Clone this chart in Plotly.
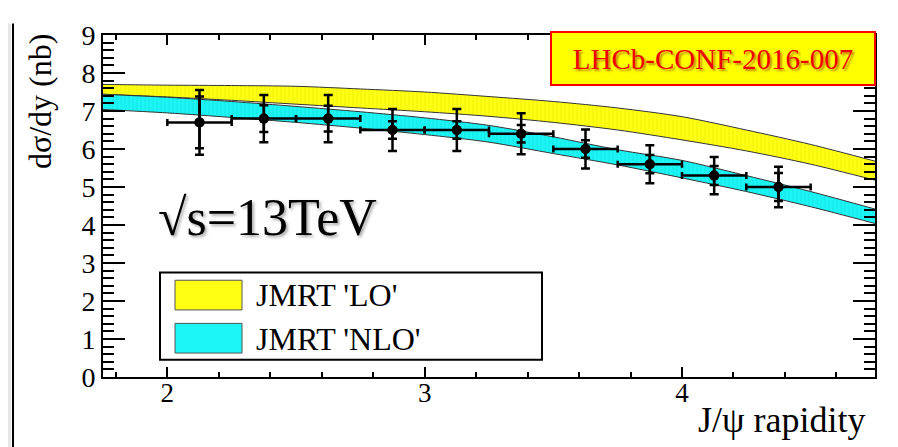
import plotly.graph_objects as go

# ---------------- data ----------------
band_x = [1.75, 2.0, 2.25, 2.5, 2.75, 3.0, 3.25, 3.5, 3.75, 4.0, 4.25, 4.5, 4.75]
lo_upper = [7.70, 7.68, 7.67, 7.65, 7.58, 7.50, 7.38, 7.25, 7.08, 6.85, 6.50, 6.12, 5.68]
lo_lower = [7.44, 7.37, 7.28, 7.18, 7.08, 6.98, 6.86, 6.70, 6.50, 6.24, 5.95, 5.60, 5.18]
nlo_upper = [7.44, 7.36, 7.25, 7.12, 6.98, 6.82, 6.62, 6.32, 5.98, 5.70, 5.30, 4.88, 4.42]
nlo_lower = [7.04, 6.95, 6.83, 6.70, 6.55, 6.38, 6.18, 5.88, 5.58, 5.24, 4.88, 4.48, 4.04]

data_x = [2.125, 2.375, 2.625, 2.875, 3.125, 3.375, 3.625, 3.875, 4.125, 4.375]
data_y = [6.70, 6.80, 6.80, 6.50, 6.50, 6.40, 6.00, 5.60, 5.30, 5.00]
err_total = [0.85, 0.62, 0.62, 0.55, 0.55, 0.54, 0.51, 0.50, 0.49, 0.53]
err_inner = [0.68, 0.35, 0.34, 0.23, 0.23, 0.23, 0.23, 0.24, 0.25, 0.37]
bin_half = [0.125] * 10

x_ticks = [2, 3, 4]
y_ticks = [0, 1, 2, 3, 4, 5, 6, 7, 8, 9]

YELLOW = "#ffff14"
CYAN = "#1cf5f5"
SERIF = "Liberation Serif"

fig = go.Figure()

edge = dict(color="#333333", width=1, shape="spline", smoothing=0.8)

# LO band
fig.add_trace(go.Scatter(x=band_x, y=lo_lower, mode="lines",
                         line=edge, showlegend=False, hoverinfo="skip"))
fig.add_trace(go.Scatter(x=band_x, y=lo_upper, mode="lines", fill="tonexty",
                         fillcolor=YELLOW,
                         fillpattern=dict(shape="|", bgcolor=YELLOW, fgcolor="#e8e800",
                                          size=4, solidity=0.3),
                         line=edge, showlegend=False, hoverinfo="skip"))
# NLO band
fig.add_trace(go.Scatter(x=band_x, y=nlo_lower, mode="lines",
                         line=edge, showlegend=False, hoverinfo="skip"))
fig.add_trace(go.Scatter(x=band_x, y=nlo_upper, mode="lines", fill="tonexty",
                         fillcolor=CYAN,
                         fillpattern=dict(shape="|", bgcolor=CYAN, fgcolor="#10dede",
                                          size=4, solidity=0.3),
                         line=edge, showlegend=False, hoverinfo="skip"))

# data: total errors + horizontal bin widths
fig.add_trace(go.Scatter(
    x=data_x, y=data_y, mode="markers",
    marker=dict(color="black", size=10),
    error_y=dict(type="data", array=err_total, color="black", thickness=2.5, width=4.5),
    error_x=dict(type="data", array=bin_half, color="black", thickness=2.5, width=3.5),
    showlegend=False))
# inner error caps
fig.add_trace(go.Scatter(
    x=data_x, y=data_y, mode="markers",
    marker=dict(color="black", size=10),
    error_y=dict(type="data", array=err_inner, color="black", thickness=2.5, width=4.5),
    showlegend=False))

# plot area in page pixels (page has an 8px body margin)
OFF = 8
PL, PT, PR, PB = 103, 20, 875, 377
W, H = 898, 447
pw = PR - PL
ph = PB - PT


def px(xp):
    return (xp - PL) / pw


def py(yp):
    return (PB - yp) / ph


shapes = [
    # legend box
    dict(type="rect", xref="paper", yref="paper", x0=px(160), x1=px(542), y0=py(359), y1=py(268),
         line=dict(color="black", width=2), fillcolor="white", layer="above"),
    dict(type="rect", xref="paper", yref="paper", x0=px(175), x1=px(242), y0=py(307), y1=py(276),
         line=dict(color="#555555", width=1), fillcolor=YELLOW, layer="above"),
    dict(type="rect", xref="paper", yref="paper", x0=px(175), x1=px(242), y0=py(352), y1=py(321),
         line=dict(color="#555555", width=1), fillcolor=CYAN, layer="above"),
    # page left edge
    dict(type="rect", xref="paper", yref="paper", x0=px(OFF), x1=px(OFF + 3), y0=py(455), y1=py(OFF),
         line=dict(width=0), fillcolor="#e6e6e6", layer="below"),
    dict(type="line", xref="paper", yref="paper", x0=px(OFF + 5), x1=px(OFF + 5), y0=py(455), y1=py(OFF),
         line=dict(color="black", width=2)),
]

annotations = [
    dict(xref="paper", yref="paper", x=px(254), y=py(291), xanchor="left", yanchor="middle",
         text="JMRT 'LO'", showarrow=False, font=dict(family=SERIF, size=32, color="black")),
    dict(xref="paper", yref="paper", x=px(254), y=py(337), xanchor="left", yanchor="middle",
         text="JMRT 'NLO'", showarrow=False, font=dict(family=SERIF, size=32, color="black")),
    dict(xref="paper", yref="paper", x=px(156), y=py(210), xanchor="left", yanchor="middle",
         text="√s=13TeV", showarrow=False,
         font=dict(family=SERIF, size=52, color="black", shadow="2px 2px 3px #aaaaaa")),
    dict(xref="paper", yref="paper", x=px(713), y=py(44.5), xanchor="center", yanchor="middle",
         text="LHCb-CONF-2016-007", showarrow=False, width=320, height=49,
         bgcolor="#ffff00", bordercolor="#ff0000", borderwidth=2, borderpad=1,
         font=dict(family=SERIF, size=29, color="#ee0000", shadow="2px 2px 2px rgba(120,0,0,0.45)")),
    dict(xref="paper", yref="paper", x=px(868), y=py(422), xanchor="right", yanchor="middle",
         text="J/ψ rapidity", showarrow=False, font=dict(family=SERIF, size=36, color="black")),
    dict(xref="paper", yref="paper", x=px(40), y=py(90), xanchor="center", yanchor="middle",
         text="dσ/dy (nb)", textangle=-90, showarrow=False,
         font=dict(family=SERIF, size=32, color="black")),
]

fig.update_layout(
    width=W, height=H,
    margin=dict(l=PL - OFF, r=W - (PR - OFF), t=PT - OFF, b=H - (PB - OFF)),
    paper_bgcolor="white", plot_bgcolor="white",
    shapes=shapes, annotations=annotations,
    showlegend=False,
    xaxis=dict(range=[1.75, 4.75], tickvals=x_ticks, ticktext=[str(v) for v in x_ticks],
               showgrid=False, zeroline=False, showline=True, linecolor="black", linewidth=2,
               mirror="allticks", ticks="inside", ticklen=10, tickwidth=2, tickcolor="black",
               minor=dict(dtick=0.2, ticks="inside", ticklen=5, tickwidth=1.5, tickcolor="black"),
               ticklabelstandoff=-9, ticklabeloverflow="allow",
               tickfont=dict(family=SERIF, size=27, color="black")),
    yaxis=dict(range=[0, 9], tickvals=y_ticks, ticktext=[str(v) for v in y_ticks],
               showgrid=False, zeroline=False, showline=True, linecolor="black", linewidth=2,
               mirror="allticks", ticks="inside", ticklen=22, tickwidth=2, tickcolor="black",
               minor=dict(dtick=0.2, ticks="inside", ticklen=11, tickwidth=1.5, tickcolor="black"),
               ticklabeloverflow="allow",
               tickfont=dict(family=SERIF, size=28, color="black")),
)

fig.write_html("out.html")
